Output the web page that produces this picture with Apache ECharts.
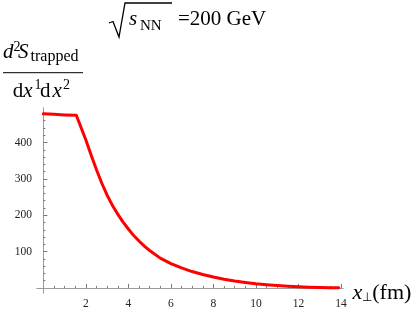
<!DOCTYPE html>
<html><head><meta charset="utf-8">
<script src="https://cdn.jsdelivr.net/npm/echarts@6/dist/echarts.min.js"></script>
<style>html,body{margin:0;padding:0;background:#fff}#c{width:415px;height:310px}</style>
</head><body><div id="c"></div>
<script>
// curve values
const xValues = [0, 0.5, 1, 1.55, 2, 2.25, 2.5, 2.75, 3, 3.25, 3.5, 3.75, 4, 4.25, 4.5, 4.75, 5, 5.5, 6, 6.5, 7, 7.5, 8, 8.5, 9, 9.5, 10, 10.5, 11, 11.5, 12, 12.5, 13, 13.5, 13.9];
const yValues = [479, 477.5, 476, 475, 407, 365, 325, 288, 255, 227, 203, 181, 162, 144, 129, 115, 103, 82, 67, 55, 45, 37, 30, 24, 19, 15, 11.5, 9, 6.5, 4.5, 3, 2, 1.2, 0.7, 0.4];
const xMajorTicks = [2, 4, 6, 8, 10, 12, 14];
const xMinorTicks = [0.5,1,1.5,2.5,3,3.5,4.5,5,5.5,6.5,7,7.5,8.5,9,9.5,10.5,11,11.5,12.5,13,13.5];
const yMajorTicks = [100, 200, 300, 400];
const yMinorTicks = [20,40,60,80,120,140,160,180,220,240,260,280,320,340,360,380,420,440,460,480];

const F = 'Liberation Serif';
const axisCol = '#9a9a9a';
const chart = echarts.init(document.getElementById('c'), null, {renderer:'canvas'});
const zip = (a,b)=>a.map((v,i)=>[v,b[i]]);
function xAx(ticks, len, labels){
  return {type:'value', min:-0.3, max:14.1, position:'bottom',
    axisLine:{show:true, onZero:true, lineStyle:{color:axisCol, width:1}},
    axisTick:{show:true, inside:true, length:len, customValues:ticks, lineStyle:{color:'#777'}},
    axisLabel:{show:labels, customValues:ticks, margin:5, fontFamily:F, fontSize:11.5, color:'#222'},
    splitLine:{show:false}};
}
function yAx(ticks, len, labels){
  return {type:'value', min:-14, max:495, position:'left',
    axisLine:{show:true, onZero:true, lineStyle:{color:axisCol, width:1}},
    axisTick:{show:true, inside:true, length:len, customValues:ticks, lineStyle:{color:'#777'}},
    axisLabel:{show:labels, customValues:ticks, margin:5, fontFamily:F, fontSize:11.5, color:'#222'},
    splitLine:{show:false}};
}
const xa0 = xAx(xMajorTicks, 4, true);
xa0.name = '{i|x}{s|⊥}{n|(fm)}';
xa0.nameLocation = 'end';
xa0.nameGap = -5;
xa0.nameTextStyle = {fontFamily:F, color:'#000', align:'left', verticalAlign:'middle', padding:[10,0,0,0],
  rich:{i:{fontFamily:F, fontStyle:'italic', fontSize:22, color:'#000'},
        s:{fontFamily:F, fontSize:12, color:'#000', verticalAlign:'bottom', lineHeight:10},
        n:{fontFamily:F, fontSize:22, color:'#000'}}};
const txt = (t, x, y, size, italic) => ({type:'text', x:x, y:y, silent:true,
  style:{text:t, fill:'#000', font:(italic?'italic ':'') + size + 'px "' + F + '"', textAlign:'left', textVerticalAlign:'middle'}});
chart.setOption({
  animation:false,
  grid:{left:37, right:72, top:108, bottom:13.5, containLabel:false},
  xAxis:[xa0, xAx(xMinorTicks, 2, false)],
  yAxis:[yAx(yMajorTicks, 4, true), yAx(yMinorTicks, 2, false)],
  series:[
    {type:'line', data:zip(xValues, yValues), showSymbol:false, lineStyle:{color:'#ff0000', width:3, join:'round', cap:'round'}, itemStyle:{color:'#ff0000'}, clip:false}
  ],
  graphic:[
    {type:'polyline', silent:true, shape:{points:[[109,23],[113,21.5],[119,37],[125,3],[172,3]]}, style:{stroke:'#000', lineWidth:1.3, fill:null}},
    txt('s', 129, 19.7, 21, true),
    txt('NN', 140, 26.2, 15, false),
    txt('=200 GeV', 178, 19.7, 21, false),
    txt('d', 3, 52, 21, true),
    txt('2', 13.5, 47.5, 14, false),
    txt('S', 18, 52, 21, true),
    txt('trapped', 30.5, 57.2, 16, false),
    {type:'line', silent:true, shape:{x1:3, y1:72.7, x2:83, y2:72.7}, style:{stroke:'#000', lineWidth:1}},
    txt('d', 12.7, 91.4, 21, false),
    txt('x', 23.3, 91.4, 21, true),
    txt('1', 34.5, 85.8, 14, false),
    txt('d', 40, 91.4, 21, false),
    txt('x', 52.5, 91.4, 21, true),
    txt('2', 63, 85.8, 14, false)
  ]
});
</script></body></html>
